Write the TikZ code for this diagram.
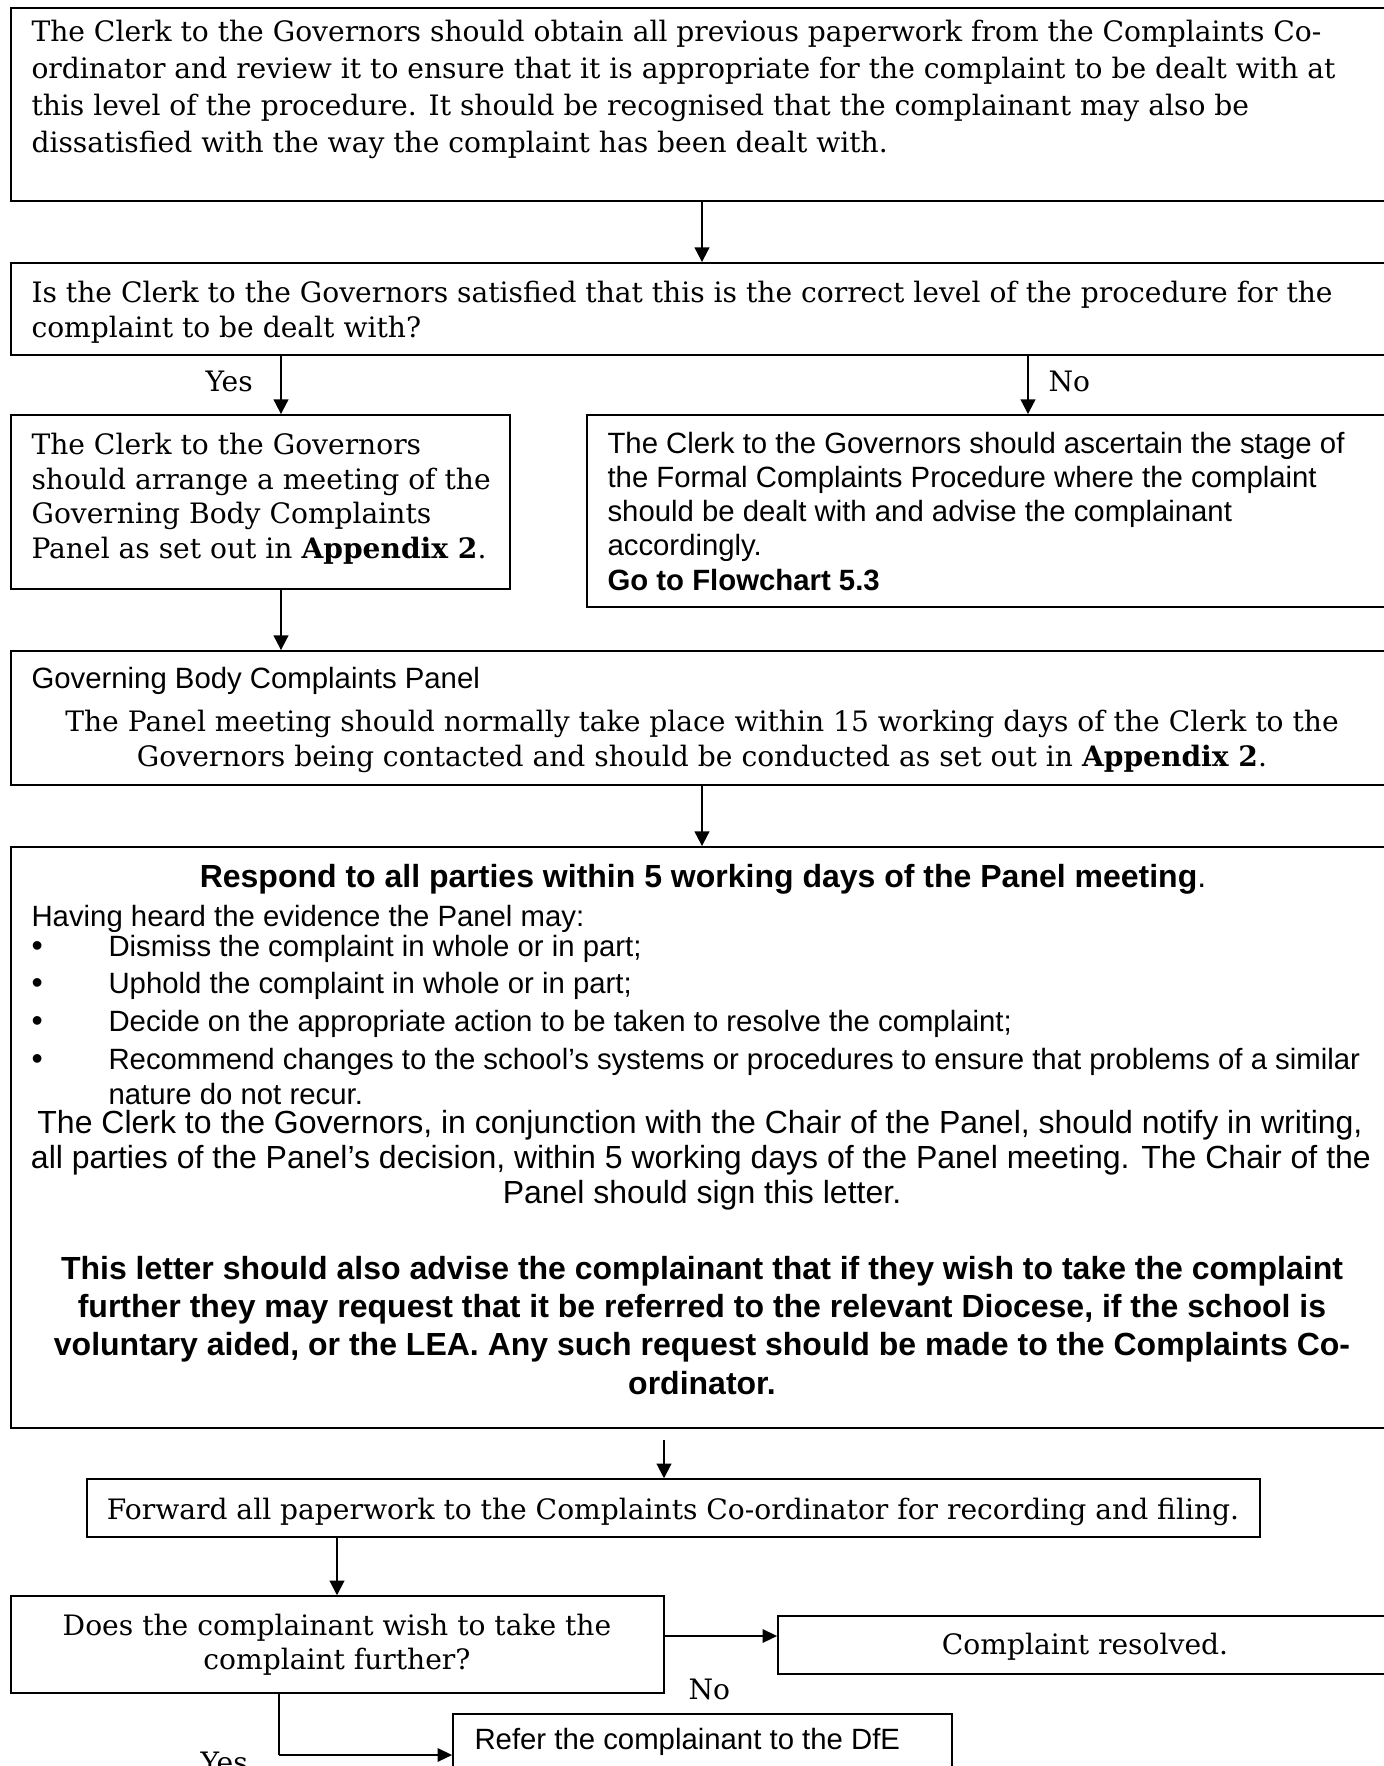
\documentclass[tikz,border=0pt]{standalone}
\usepackage{fontspec}
\setmainfont{DejaVu Serif}
\setsansfont{Liberation Sans}
\usetikzlibrary{arrows.meta,fit}
\begin{document}
\begin{tikzpicture}[x=0.375pt,y=-0.375pt,
  box/.style={draw=black,line width=0.75pt,inner sep=0pt,rectangle},
  sbox/.style={draw=black,line width=0.6pt,inner sep=0pt,rectangle},
  sr/.style={inner sep=0pt,font=\fontsize{10.55}{12}\selectfont},
  sa/.style={inner sep=0pt,font=\sffamily\fontsize{11}{13}\selectfont},
  sb/.style={inner sep=0pt,font=\sffamily\fontsize{12}{14}\selectfont},
  sbb/.style={inner sep=0pt,font=\sffamily\bfseries\fontsize{12}{14}\selectfont},
  arr/.style={line width=0.5pt,-{Triangle[length=5.5pt,width=5.6pt]}},
  tarr/.style={line width=0.85pt,-{Triangle[length=5.5pt,width=5pt]}}]
\useasboundingbox (0,0) rectangle (1384,1766);
\clip (0,0) rectangle (1384,1766);
\fill[white] (0,0) rectangle (1384,1766);
% boxes
\node[box,fit={(11,8) (1393,201)}] (b1) {};
\node[box,fit={(11,263) (1393,355)}] (b2) {};
\node[box,fit={(11,415) (510,589)}] (b3) {};
\node[box,fit={(587,415) (1393,607)}] (b4) {};
\node[box,fit={(11,651) (1393,785)}] (b5) {};
\node[box,fit={(11,847) (1393,1428)}] (b6) {};
\node[sbox,fit={(87,1479) (1260,1537)}] (b7) {};
\node[sbox,fit={(11,1596) (664,1693)}] (b8) {};
\node[sbox,fit={(778,1616) (1393,1674)}] (b9) {};
\node[sbox,fit={(453,1714) (952,1800)}] (b10) {};
% x positions of connectors
\coordinate (xc) at (702,0);
\coordinate (xy) at (281,0);
\coordinate (xn) at (1028,0);
\coordinate (xd) at (337,0);
\coordinate (xq) at (279,0);
\coordinate (s7) at (664,1440);
\coordinate (ycor) at (0,1755);
\coordinate (yno) at (0,1636);
% text box 1
\node[sr,anchor=base west] (t1a) at (31,41) {The Clerk to the Governors should obtain all previous paperwork from the Complaints Co-};
\node[sr,anchor=base west] (t1b) at (31,78) {ordinator and review it to ensure that it is appropriate for the complaint to be dealt with at};
\node[sr,anchor=base west] (t1c) at (31,115) {this level of the procedure. It should be recognised that the complainant may also be};
\node[sr,anchor=base west] (t1d) at (31,152) {dissatisfied with the way the complaint has been dealt with.};
% box 2
\node[sr,anchor=base west] (t2a) at (31,302) {Is the Clerk to the Governors satisfied that this is the correct level of the procedure for the};
\node[sr,anchor=base west] (t2b) at (31,337) {complaint to be dealt with?};
\node[sr,anchor=base west] (lyes) at (205,391) {Yes};
\node[sr,anchor=base west] (lno) at (1048,391) {No};
% box 3
\node[sr,anchor=base west] (t3a) at (31,454) {The Clerk to the Governors};
\node[sr,anchor=base west] (t3b) at (31,489) {should arrange a meeting of the};
\node[sr,anchor=base west] (t3c) at (31,523) {Governing Body Complaints};
\node[sr,anchor=base west] (t3d) at (31,558) {Panel as set out in \textbf{Appendix 2}.};
% box 4
\node[sa,anchor=base west] (t4a) at (607,453) {The Clerk to the Governors should ascertain the stage of};
\node[sa,anchor=base west] (t4b) at (607,487) {the Formal Complaints Procedure where the complaint};
\node[sa,anchor=base west] (t4c) at (607,521) {should be dealt with and advise the complainant};
\node[sa,anchor=base west] (t4d) at (607,555) {accordingly.};
\node[sa,anchor=base west] (t4e) at (607,590) {\bfseries Go to Flowchart 5.3};
% box 5
\node[sa,anchor=base west] (t5a) at (31,688) {Governing Body Complaints Panel};
\node[sr,anchor=base] (t5b) at (702,731) {The Panel meeting should normally take place within 15 working days of the Clerk to the};
\node[sr,anchor=base] (t5c) at (702,766) {Governors being contacted and should be conducted as set out in \textbf{Appendix 2}.};
% box 6
\node[sb,anchor=base] (t6a) at (703,887) {\textbf{Respond to all parties within 5 working days of the Panel meeting}.};
\node[sa,anchor=base west] (t6b) at (31,926) {Having heard the evidence the Panel may:};
\node[sb,anchor=base west] (u1) at (31,956) {•};
\node[sa,anchor=base west] (t6c) at (108,956) {Dismiss the complaint in whole or in part;};
\node[sb,anchor=base west] (u2) at (31,993) {•};
\node[sa,anchor=base west] (t6d) at (108,993) {Uphold the complaint in whole or in part;};
\node[sb,anchor=base west] (u3) at (31,1031) {•};
\node[sa,anchor=base west] (t6e) at (108,1031) {Decide on the appropriate action to be taken to resolve the complaint;};
\node[sb,anchor=base west] (u4) at (31,1069) {•};
\node[sa,anchor=base west] (t6f) at (108,1069) {Recommend changes to the school’s systems or procedures to ensure that problems of a similar};
\node[sa,anchor=base west] (t6g) at (108,1104) {nature do not recur.};
\node[sb,anchor=base] (t6h) at (700,1133) {The Clerk to the Governors, in conjunction with the Chair of the Panel, should notify in writing,};
\node[sb,anchor=base] (t6i) at (701,1168) {all parties of the Panel’s decision, within 5 working days of the Panel meeting. The Chair of the};
\node[sb,anchor=base] (t6j) at (702,1203) {Panel should sign this letter.};
\node[sbb,anchor=base] (t6k) at (702,1279) {This letter should also advise the complainant that if they wish to take the complaint};
\node[sbb,anchor=base] (t6l) at (702,1317) {further they may request that it be referred to the relevant Diocese, if the school is};
\node[sbb,anchor=base] (t6m) at (702,1355) {voluntary aided, or the LEA. Any such request should be made to the Complaints Co-};
\node[sbb,anchor=base] (t6n) at (702,1394) {ordinator.};
% box 7-10
\node[sr,anchor=base] (t7) at (673,1519) {Forward all paperwork to the Complaints Co-ordinator for recording and filing.};
\node[sr,anchor=base] (t8a) at (337,1635) {Does the complainant wish to take the};
\node[sr,anchor=base] (t8b) at (337,1669) {complaint further?};
\node[sr,anchor=base] (t9) at (1085,1654) {Complaint resolved.};
\node[sr,anchor=base west] (lno2) at (688,1699) {No};
\node[sa,anchor=base west] (t10) at (474,1749) {Refer the complainant to the DfE};
\node[sr,anchor=base west] (lyes2) at (200,1772) {Yes};
% connectors
\draw[arr] (b1.south -| xc) -- (b2.north -| xc);
\draw[arr] (b2.south -| xy) -- (b3.north -| xy);
\draw[arr] (b2.south -| xn) -- (b4.north -| xn);
\draw[arr] (b3.south -| xy) -- (b5.north -| xy);
\draw[arr] (b5.south -| xc) -- (b6.north -| xc);
\draw[arr] (s7) -- (b7.north -| s7);
\draw[arr] (b7.south -| xd) -- (b8.north -| xd);
\draw[tarr] (b8.east |- yno) -- (b9.west |- yno);
\draw[line width=0.5pt] (b8.south -| xq) -- (xq |- ycor);
\draw[tarr] (xq |- ycor) -- (b10.west |- ycor);
\end{tikzpicture}
\end{document}
